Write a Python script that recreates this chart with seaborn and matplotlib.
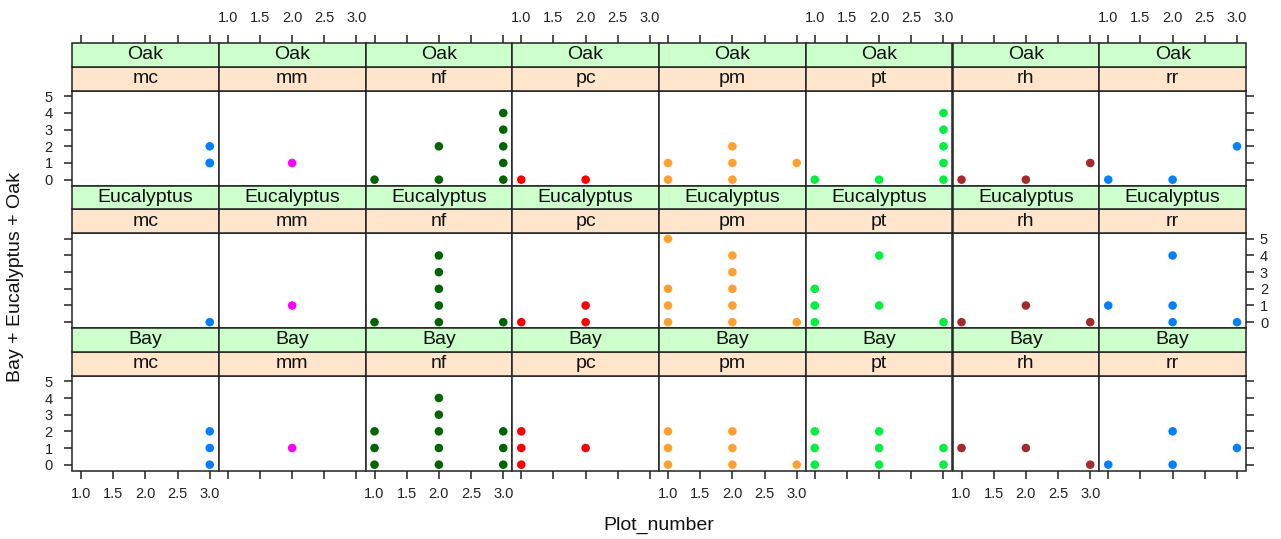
import numpy as np
import pandas as pd
import matplotlib
matplotlib.use("Agg")
import matplotlib.pyplot as plt
from matplotlib.patches import Rectangle
import seaborn as sns

# Seedling counts per plot, by site, for each species
oak_site = ["mc", "mc", "mc", "mm",
            "nf", "nf", "nf", "nf", "nf", "nf", "nf", "nf",
            "pc", "pc",
            "pm", "pm", "pm", "pm", "pm", "pm",
            "pt", "pt", "pt", "pt", "pt", "pt", "pt",
            "rh", "rh", "rh",
            "rr", "rr", "rr"]
oak_plot = [3, 3, 3, 2,
            1, 2, 2, 3, 3, 3, 3, 3,
            1, 2,
            1, 1, 2, 2, 2, 3,
            1, 2, 3, 3, 3, 3, 3,
            1, 2, 3,
            1, 2, 3]
oak_count = [1, 1, 2, 1,
             0, 0, 2, 0, 1, 2, 3, 4,
             0, 0,
             0, 1, 0, 1, 2, 1,
             0, 0, 0, 1, 2, 3, 4,
             0, 0, 1,
             0, 0, 2]

euc_site = ["mc", "mm",
            "nf", "nf", "nf", "nf", "nf", "nf", "nf",
            "pc", "pc", "pc",
            "pm", "pm", "pm", "pm", "pm", "pm", "pm", "pm", "pm", "pm",
            "pt", "pt", "pt", "pt", "pt", "pt",
            "rh", "rh", "rh",
            "rr", "rr", "rr", "rr", "rr"]
euc_plot = [3, 2,
            1, 2, 2, 2, 2, 2, 3,
            1, 2, 2,
            1, 1, 1, 1, 2, 2, 2, 2, 2, 3,
            1, 1, 1, 2, 2, 3,
            1, 2, 3,
            1, 2, 2, 2, 3]
euc_count = [0, 1,
             0, 0, 1, 2, 3, 4, 0,
             0, 0, 1,
             0, 1, 2, 5, 0, 1, 2, 3, 4, 0,
             0, 1, 2, 1, 4, 0,
             0, 1, 0,
             1, 0, 1, 4, 0]

bay_site = ["mc", "mc", "mc", "mm",
            "nf", "nf", "nf", "nf", "nf", "nf", "nf", "nf", "nf", "nf", "nf",
            "pc", "pc", "pc", "pc",
            "pm", "pm", "pm", "pm", "pm", "pm", "pm",
            "pt", "pt", "pt", "pt", "pt", "pt", "pt", "pt",
            "rh", "rh", "rh",
            "rr", "rr", "rr", "rr"]
bay_plot = [3, 3, 3, 2,
            1, 1, 1, 2, 2, 2, 2, 2, 3, 3, 3,
            1, 1, 1, 2,
            1, 1, 1, 2, 2, 2, 3,
            1, 1, 1, 2, 2, 2, 3, 3,
            1, 2, 3,
            1, 2, 2, 3]
bay_count = [0, 1, 2, 1,
             0, 1, 2, 0, 1, 2, 3, 4, 0, 1, 2,
             0, 1, 2, 1,
             0, 1, 2, 0, 1, 2, 0,
             0, 1, 2, 0, 1, 2, 0, 1,
             1, 1, 0,
             0, 0, 2, 1]

species_order = ["Oak", "Eucalyptus", "Bay"]
site_order = ["mc", "mm", "nf", "pc", "pm", "pt", "rh", "rr"]
site_colors = ["#0080ff", "#ff00ff", "#006400", "#ff0000",
               "#ffa030", "#00f040", "#a52a2a", "#0080ff"]
x_ticks = [1.0, 1.5, 2.0, 2.5, 3.0]
y_ticks = [0, 1, 2, 3, 4, 5]

df = pd.concat([
    pd.DataFrame({"species": "Oak", "site": oak_site,
                  "Plot_number": oak_plot, "count": oak_count}),
    pd.DataFrame({"species": "Eucalyptus", "site": euc_site,
                  "Plot_number": euc_plot, "count": euc_count}),
    pd.DataFrame({"species": "Bay", "site": bay_site,
                  "Plot_number": bay_plot, "count": bay_count}),
], ignore_index=True)

sns.set_style("white")
plt.rcParams["font.family"] = ["Liberation Sans", "DejaVu Sans"]

W, H = 1281, 539
fig = plt.figure(figsize=(W / 100, H / 100), dpi=100)

left, right = 72, 1246
col_w = (right - left) / len(site_order)
row_top0, row_pitch = 43, 142.5
strip_h = 23.75
panel_h = row_pitch - 2 * strip_h
sf = strip_h / panel_h
line_col = "#222222"
lw = 1.1

xr = (min(x_ticks), max(x_ticks))
xpad = 0.07 * (xr[1] - xr[0])
yr = (min(y_ticks), max(y_ticks))
ypad = 0.07 * (yr[1] - yr[0])

for i, sp in enumerate(species_order):
    top = row_top0 + i * row_pitch + 2 * strip_h
    for j, site in enumerate(site_order):
        x0 = left + j * col_w
        ax = fig.add_axes([x0 / W, 1 - (top + panel_h) / H, col_w / W, panel_h / H])
        sub = df[(df.species == sp) & (df.site == site)]
        sns.scatterplot(data=sub, x="Plot_number", y="count", color=site_colors[j],
                        s=38, edgecolor="none", linewidth=0, ax=ax, legend=False,
                        clip_on=False, zorder=3)
        ax.set_xlim(xr[0] - xpad, xr[1] + xpad)
        ax.set_ylim(yr[0] - ypad, yr[1] + ypad)
        ax.set_xlabel("")
        ax.set_ylabel("")
        ax.set_xticks(x_ticks)
        ax.set_yticks(y_ticks)
        ax.set_xticklabels([f"{v:.1f}" for v in x_ticks])
        for s in ax.spines.values():
            s.set_color(line_col)
            s.set_linewidth(lw)
        ax.tick_params(axis="both", which="both", direction="out", length=6,
                       width=lw, color=line_col, labelsize=10.5, labelcolor="#222222",
                       bottom=(i == len(species_order) - 1),
                       labelbottom=(i == len(species_order) - 1 and j % 2 == 0),
                       top=False, labeltop=False,
                       left=(j == 0), labelleft=(j == 0 and i != 1),
                       right=(j == len(site_order) - 1),
                       labelright=(j == len(site_order) - 1 and i == 1))
        ax.tick_params(axis="x", pad=6)
        ax.tick_params(axis="y", pad=(8 if j == 0 else 4))

        # conditioning strips: site (lower) and species (upper)
        for k, (lab, col) in enumerate([(site, "#ffe5cc"), (sp, "#ccffcc")]):
            y0 = 1 + k * sf
            ax.add_patch(Rectangle((0, y0), 1, sf, transform=ax.transAxes,
                                   facecolor=col, edgecolor=line_col, lw=lw,
                                   clip_on=False, zorder=4))
            ax.text(0.5, y0 + sf / 2, lab, transform=ax.transAxes, ha="center",
                    va="center", fontsize=14, color="#111111", zorder=5)

        # top axis sits above the strips of the first row
        if i == 0:
            sec = ax.secondary_xaxis(1 + 2 * sf)
            sec.set_xticks(x_ticks)
            sec.set_xticklabels([f"{v:.1f}" for v in x_ticks] if j % 2 == 1 else [])
            sec.spines["top"].set_visible(False)
            sec.tick_params(direction="out", length=6, width=lw, color=line_col,
                            labelsize=10.5, labelcolor="#222222", pad=7)

fig.text(16 / W, 1 - 277 / H, "Bay + Eucalyptus + Oak", rotation=90,
         ha="center", va="center", fontsize=14, color="#111111")
fig.text(659 / W, 1 - 525 / H, "Plot_number", ha="center", va="center",
         fontsize=14, color="#111111")

fig.savefig("out.png", dpi=100, facecolor="white")
